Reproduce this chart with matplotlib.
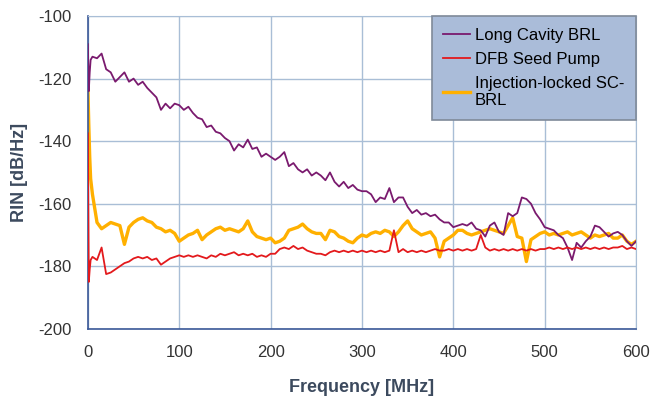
import numpy as np
import matplotlib
matplotlib.use("Agg")
import matplotlib.pyplot as plt

plt.rcParams['font.family'] = ['Liberation Sans', 'DejaVu Sans']
plt.rcParams['axes.unicode_minus'] = False

# frequency samples [MHz]
freq = np.concatenate([[0, 1, 2, 3], np.arange(5, 601, 5)])

# RIN [dB/Hz]
long_cavity = [-109, -124, -118, -114,
    -113, -113.5, -112, -117, -118, -121, -119.5, -118, -121, -120,
    -122, -121, -123, -124.5, -126, -130, -128, -129.5, -128, -128.5,
    -130, -129, -131, -132.5, -133, -135.5, -135, -137, -137.5, -139,
    -140, -143, -141, -142, -139.5, -142.5, -142, -145, -144, -145,
    -146, -145, -143.5, -148, -147, -149, -150, -149, -151, -150,
    -151, -152.5, -150, -153, -154.5, -153, -155, -154, -155.5, -156,
    -156, -157, -159.5, -158, -158.5, -155, -159.5, -158, -158, -161,
    -163, -162, -163.5, -163, -164, -163.5, -165, -166, -166, -167.5,
    -167, -166.5, -167, -166, -168, -168.5, -170.5, -167, -166, -169,
    -170, -163, -164, -163, -158, -158.5, -160, -163, -165, -167.5,
    -168, -168.5, -170, -171, -174, -178, -172.5, -174, -172, -170.5,
    -167, -167.5, -169, -170.5, -169.5, -169, -170, -172, -173.5, -172]

dfb_seed = [-137.5, -185, -181, -178,
    -177, -178, -174, -182.5, -182, -181, -180, -179, -178.5, -177.5,
    -177, -177.5, -177, -178, -177.5, -179.5, -178.5, -177.5, -177, -176.5,
    -177, -176.5, -177, -176.5, -177, -177.5, -176.5, -177, -176, -176.5,
    -176, -175.5, -176.5, -176, -176.5, -176, -177, -176.5, -177, -176,
    -176, -174.5, -174, -174.5, -173.5, -174.5, -174, -175, -175.5, -176,
    -176, -176.5, -175.5, -175, -175.5, -175, -175.5, -175, -175.5, -175,
    -175.5, -175, -175.5, -175, -175.5, -175, -168.5, -175.5, -174.5, -175.5,
    -175, -175.5, -175, -175.5, -175, -174.5, -175, -175, -174.5, -175,
    -174.5, -175, -174.5, -175, -174.5, -170, -174, -175, -174.5, -175,
    -174.5, -175, -174.5, -175, -174.5, -175, -174.5, -175, -174.5, -174.5,
    -174, -174.5, -174, -174.5, -174, -174.5, -174, -174.5, -174, -174.5,
    -174, -174.5, -174, -174.5, -174, -174, -173.5, -174.5, -174, -174.5]

injection_locked = [-123, -135, -145, -152,
    -157, -166, -168, -167, -166, -166.5, -167, -173, -167.5, -166,
    -165, -164.5, -165.5, -166, -167.5, -168, -169, -168.5, -169.5, -172,
    -171, -170, -169.5, -168.5, -171.5, -170, -169, -168, -167.5, -168.5,
    -168, -168.5, -169, -168, -165.5, -169, -170.5, -171, -171.5, -171,
    -172.5, -172, -171, -168.5, -168, -167.5, -166.5, -168, -169, -169.5,
    -169.5, -171.5, -168.5, -169, -170.5, -171, -172, -172.5, -171, -170,
    -170.5, -169.5, -169, -169.5, -168.5, -169, -170.5, -169, -167, -165.5,
    -168, -169, -170, -169.5, -169, -171, -177, -172, -171, -170,
    -168.5, -168.5, -169.5, -170, -169.5, -169, -168.5, -168, -168.5, -169,
    -169.5, -167, -164.5, -170.5, -171, -178.5, -171.5, -170.5, -169.5, -169,
    -170, -169.5, -170, -169.5, -169, -170, -169.5, -169, -170, -171,
    -170, -170.5, -170, -169.5, -171, -171, -170, -172, -173, -172]

x_ticks = [0, 100, 200, 300, 400, 500, 600]
y_ticks = [-200, -180, -160, -140, -120, -100]

fig = plt.figure(figsize=(6.51, 4.01), dpi=100)
ax = fig.add_axes([0.135, 0.18, 0.842, 0.78])

ax.plot(freq, long_cavity, color='#7a1a6e', lw=1.3, label='Long Cavity BRL', zorder=3)
ax.plot(freq, dfb_seed, color='#e3191c', lw=1.3, label='DFB Seed Pump', zorder=4)
ax.plot(freq, injection_locked, color='#ffb000', lw=2.4, label='Injection-locked SC-\nBRL', zorder=2)

ax.set_xlim(0, 600)
ax.set_ylim(-200, -100)
ax.set_xticks(x_ticks)
ax.set_yticks(y_ticks)
ax.grid(True, color='#a9bed6', lw=1.0)
ax.set_axisbelow(True)
for s in ['top', 'right']:
    ax.spines[s].set_color('#a9bed6')
for s in ['left', 'bottom']:
    ax.spines[s].set_color('#3b5998')
    ax.spines[s].set_linewidth(1.2)
ax.tick_params(length=0, pad=12, labelsize=12, labelcolor='#333333')

ax.set_xlabel('Frequency [MHz]', fontsize=13, fontweight='bold', color='#3c4a5e', labelpad=13)
ax.set_ylabel('RIN [dB/Hz]', fontsize=13, fontweight='bold', color='#3c4a5e', labelpad=7)

leg = ax.legend(loc='upper right', bbox_to_anchor=(1.0, 1.0), frameon=True, fancybox=False,
                fontsize=12, handlelength=1.6, handletextpad=0.3, borderaxespad=0,
                labelspacing=0.55, borderpad=0.7)
leg.get_frame().set_facecolor('#aabcd9')
leg.get_frame().set_edgecolor('#7f8a99')
leg.get_frame().set_alpha(1)
leg.get_frame().set_linewidth(1.2)

fig.savefig('out.png', dpi=100)
